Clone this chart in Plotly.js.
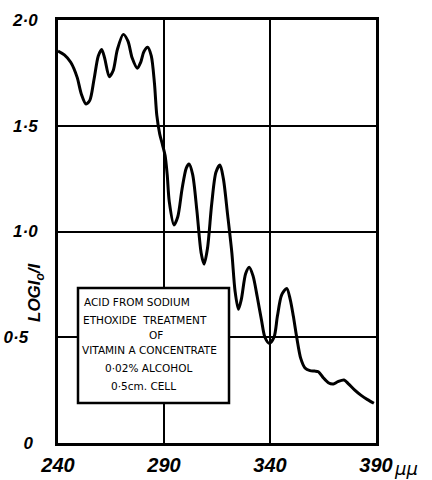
<!DOCTYPE html>
<html>
<head>
<meta charset="utf-8">
<script src="https://cdn.plot.ly/plotly-3.0.1.min.js"></script>
<style>
html,body{margin:0;padding:0;background:#fff;}
#chart{width:432px;height:480px;}
</style>
</head>
<body>
<div id="chart"></div>
<script>
const wavelength = [240, 243, 246, 249, 251, 253.2, 255, 257, 259, 260.6, 262, 264.2, 266, 268, 270.8, 273, 275, 277.4, 279, 280.5, 282.3, 284, 285.5, 286.6, 288, 289.3, 290.5, 291.5, 292.5, 294.7, 296.5, 298.5, 300.5, 301.8, 303.5, 305.5, 307.5, 308.9, 310.5, 312.5, 314.5, 316.4, 318, 320, 322, 323.5, 325.1, 326.5, 328.5, 330.2, 332, 334, 336, 337.6, 339.7, 341.9, 343.5, 345.5, 347.9, 349.5, 351, 352.6, 354.5, 356.5, 358.9, 361, 362.8, 365, 367.5, 369.9, 372, 374.9, 377, 380, 383, 386, 389];
const logI0I = [1.853, 1.835, 1.80, 1.73, 1.65, 1.603, 1.62, 1.72, 1.83, 1.861, 1.82, 1.732, 1.76, 1.86, 1.932, 1.90, 1.82, 1.772, 1.80, 1.85, 1.871, 1.83, 1.70, 1.55, 1.46, 1.41, 1.36, 1.27, 1.14, 1.031, 1.07, 1.20, 1.30, 1.319, 1.27, 1.10, 0.90, 0.846, 0.92, 1.13, 1.28, 1.314, 1.25, 1.08, 0.90, 0.72, 0.632, 0.68, 0.80, 0.831, 0.79, 0.69, 0.58, 0.50, 0.471, 0.50, 0.60, 0.70, 0.731, 0.68, 0.60, 0.50, 0.40, 0.355, 0.342, 0.34, 0.337, 0.31, 0.285, 0.279, 0.29, 0.298, 0.28, 0.25, 0.225, 0.205, 0.188];

const xTickVals = [240, 290, 340, 390];
const xTickText = ['240', '290', '340', '390'];
const yTickVals = [0, 0.5, 1.0, 1.5, 2.0];
const yTickText = ['0\u00a0', '0·5\u00a0\u00a0', '1·0', '1·5', '2·0'];
const noteLines = ['ACID FROM SODIUM', 'ETHOXIDE  TREATMENT', 'OF', 'VITAMIN A CONCENTRATE', '0·02% ALCOHOL', '0·5cm. CELL'];

// pixel helpers for layout placement (plot area 58..376 x 20..443)
const L = 58, R = 376, T = 20, B = 443;
const px2x = p => 240 + (p - L) / (R - L) * 150;
const py2y = p => (B - p) / (B - T) * 2;

const tickFont = {family: 'Liberation Sans, Arial, sans-serif', color: '#000', weight: 'bold', style: 'italic'};

const notePos = [
  {x: 82, y: 302, anchor: 'left'},
  {x: 81, y: 320, anchor: 'left'},
  {x: 156, y: 335, anchor: 'center'},
  {x: 80, y: 350, anchor: 'left'},
  {x: 148, y: 368, anchor: 'center'},
  {x: 143, y: 386, anchor: 'center'}
];

const annotations = noteLines.map((t, i) => ({
  x: px2x(notePos[i].x), y: py2y(notePos[i].y), xref: 'x', yref: 'y',
  text: t, showarrow: false, xanchor: notePos[i].anchor, yanchor: 'middle',
  font: {family: 'DejaVu Sans, sans-serif', size: 10.5, color: '#000'}
}));

annotations.push({
  xref: 'paper', yref: 'paper', x: (36 - L) / (R - L), y: (B - 292) / (B - T),
  text: 'LOGI<sub>o</sub>/I', textangle: -90, showarrow: false,
  xanchor: 'center', yanchor: 'middle',
  font: Object.assign({}, tickFont, {size: 17})
});
annotations.push({
  xref: 'paper', yref: 'paper', x: (392 - L) / (R - L), y: (B - 468) / (B - T),
  text: 'μμ', showarrow: false, xanchor: 'left', yanchor: 'middle',
  font: {family: 'DejaVu Sans, sans-serif', size: 18, color: '#000', style: 'italic'}
});

const data = [{
  x: wavelength, y: logI0I, type: 'scatter', mode: 'lines',
  line: {color: '#000', width: 3, shape: 'spline', smoothing: 0.8},
  hoverinfo: 'skip'
}];

const layout = {
  width: 432, height: 480,
  margin: {l: L, r: 432 - R, t: T, b: 480 - B},
  paper_bgcolor: '#fff', plot_bgcolor: '#fff',
  showlegend: false,
  xaxis: {
    range: [240, 390], tickvals: xTickVals, ticktext: xTickText,
    showgrid: true, gridcolor: '#000', gridwidth: 2,
    showline: true, linecolor: '#000', linewidth: 3, mirror: true,
    ticks: '', zeroline: false, ticklabelstandoff: 2,
    tickfont: Object.assign({}, tickFont, {size: 20})
  },
  yaxis: {
    range: [0, 2], tickvals: yTickVals, ticktext: yTickText,
    showgrid: true, gridcolor: '#000', gridwidth: 2,
    showline: true, linecolor: '#000', linewidth: 3, mirror: true,
    ticks: '', zeroline: false, ticklabelstandoff: 14,
    tickfont: Object.assign({}, tickFont, {size: 17})
  },
  shapes: [{
    type: 'rect', xref: 'x', yref: 'y', layer: 'above',
    x0: px2x(78), x1: px2x(229), y0: py2y(403), y1: py2y(288),
    fillcolor: '#fff', line: {color: '#000', width: 2.5}
  }],
  annotations: annotations
};

Plotly.newPlot('chart', data, layout, {displayModeBar: false, staticPlot: true});
</script>
</body>
</html>
